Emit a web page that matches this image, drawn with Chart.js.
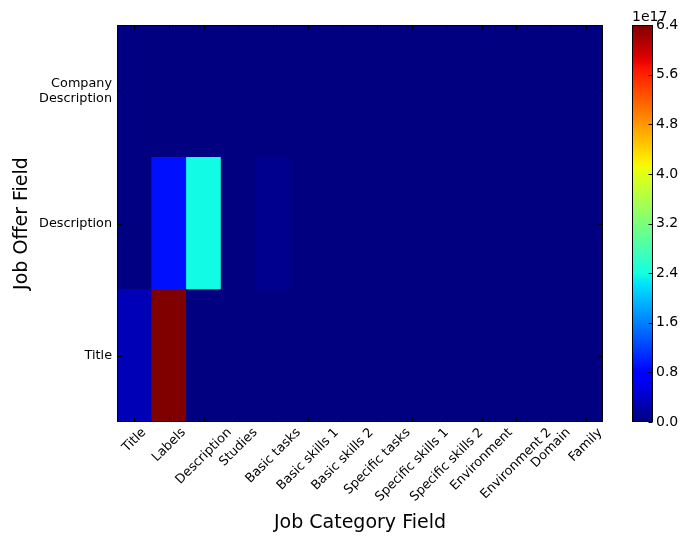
<!DOCTYPE html>
<html>
<head>
<meta charset="utf-8">
<script src="https://cdn.jsdelivr.net/npm/chart.js@4/dist/chart.umd.min.js"></script>
<style>
  html, body { margin: 0; padding: 0; background: #fff; }
  #wrap { position: relative; width: 681px; height: 536px; }
  canvas { position: absolute; top: 0; }
  #heat { left: 0; }
  #cbar { left: 600px; }
</style>
</head>
<body>
<div id="wrap">
  <canvas id="heat" width="681" height="536"></canvas>
  <canvas id="cbar" width="81" height="536"></canvas>
</div>
<script>
// Job category fields (columns)
const categoryFields = ['Title', 'Labels', 'Description', 'Studies', 'Basic tasks', 'Basic skills 1',
  'Basic skills 2', 'Specific tasks', 'Specific skills 1', 'Specific skills 2', 'Environment',
  'Environment 2', 'Domain', 'Family'];

// Job offer fields (rows, bottom to top)
const offerFields = [['Title'], ['Description'], ['Company', 'Description']];

// Cell values per offer field, one per category field
const titleRow       = [0.30e17, 6.40e17, 0, 0, 0, 0, 0, 0, 0, 0, 0, 0, 0, 0];
const descriptionRow = [0, 0.90e17, 2.38e17, 0, 0.08e17, 0, 0, 0, 0, 0, 0, 0, 0, 0];
const companyRow     = [0, 0, 0, 0, 0, 0, 0, 0, 0, 0, 0, 0, 0, 0];

// Colour bar ticks, in units of 1e17
const colorbarTicks = [0.0, 0.8, 1.6, 2.4, 3.2, 4.0, 4.8, 5.6, 6.4];
const colorbarExponent = 17;

const FONT = "'DejaVu Sans', sans-serif";
const TICK_SIZE = 12.8;

// Jet colormap segments
const JET = {
  r: [[0, 0], [0.35, 0], [0.66, 1], [0.89, 1], [1, 0.5]],
  g: [[0, 0], [0.125, 0], [0.375, 1], [0.64, 1], [0.91, 0], [1, 0]],
  b: [[0, 0.5], [0.11, 1], [0.34, 1], [0.65, 0], [1, 0]]
};
function seg(pts, t) {
  for (let i = 1; i < pts.length; i++) {
    if (t <= pts[i][0]) {
      const [x0, y0] = pts[i - 1], [x1, y1] = pts[i];
      return y0 + (y1 - y0) * (t - x0) / (x1 - x0);
    }
  }
  return pts[pts.length - 1][1];
}
function jet(t) {
  t = Math.min(1, Math.max(0, t));
  const c = k => Math.round(255 * seg(JET[k], t));
  return `rgb(${c('r')},${c('g')},${c('b')})`;
}

const rows = [titleRow, descriptionRow, companyRow];
const vmax = Math.max(...rows.flat());

// Plot background in the colormap's zero colour, so cell joins stay seamless
const heatBackground = {
  id: 'heatBackground',
  beforeDatasetsDraw(chart) {
    const { ctx, chartArea: a } = chart;
    ctx.save();
    ctx.fillStyle = jet(0);
    ctx.fillRect(a.left, a.top, a.right - a.left, a.bottom - a.top);
    ctx.restore();
  }
};

// Inward ticks, frame and rotated category labels
const heatDecor = {
  id: 'heatDecor',
  afterDraw(chart) {
    const { ctx, chartArea: a, scales } = chart;
    ctx.save();
    ctx.strokeStyle = '#000';
    ctx.lineWidth = 1;
    const L = Math.round(a.left) + 0.5, R = Math.round(a.right) - 0.5;
    const T = Math.round(a.top) + 0.5, B = Math.round(a.bottom) - 0.5;
    ctx.beginPath();
    scales.x.ticks.forEach((_, i) => {
      const x = Math.round(scales.x.getPixelForTick(i)) + 0.5;
      ctx.moveTo(x, T); ctx.lineTo(x, T + 4);
      ctx.moveTo(x, B); ctx.lineTo(x, B - 4);
    });
    scales.y.ticks.forEach(t => {
      const y = Math.round(scales.y.getPixelForValue(t.value)) + 0.5;
      ctx.moveTo(L, y); ctx.lineTo(L + 4, y);
      ctx.moveTo(R, y); ctx.lineTo(R - 4, y);
    });
    ctx.stroke();
    ctx.strokeRect(L, T, R - L, B - T);

    // category labels rotated 45 degrees, centred on their ticks
    const fs = TICK_SIZE;
    ctx.font = `${fs}px ${FONT}`;
    ctx.fillStyle = '#000';
    ctx.textAlign = 'center';
    ctx.textBaseline = 'middle';
    const c45 = Math.SQRT1_2;
    categoryFields.forEach((label, i) => {
      const w = ctx.measureText(label).width;
      const half = (w + fs) * c45 / 2;
      const x = scales.x.getPixelForTick(i);
      const y = a.bottom + 4 + half;
      ctx.save();
      ctx.translate(x, y);
      ctx.rotate(-Math.PI / 4);
      ctx.fillText(label, 0, 0);
      ctx.restore();
    });
    ctx.restore();
  }
};

new Chart(document.getElementById('heat'), {
  type: 'bar',
  data: {
    labels: categoryFields,
    datasets: rows.map((vals, r) => ({
      data: vals.map(() => [r, r + 1]),
      backgroundColor: vals.map(v => jet(v / vmax)),
      borderWidth: 0,
      borderSkipped: false,
      grouped: false,
      barPercentage: 1,
      categoryPercentage: 1
    }))
  },
  options: {
    responsive: false,
    animation: false,
    devicePixelRatio: 1,
    layout: { padding: { left: 0, top: 25, right: 78, bottom: 0 } },
    plugins: { legend: { display: false }, tooltip: { enabled: false } },
    scales: {
      x: {
        type: 'category',
        grid: { display: false, drawTicks: false, tickLength: 0 },
        border: { display: false },
        ticks: { display: false },
        title: {
          display: true, text: 'Job Category Field', color: '#000',
          font: { family: FONT, size: 19 }, padding: { top: 0, bottom: 2 }
        },
        afterFit(s) { s.height = 114; }
      },
      y: {
        type: 'linear', min: 0, max: 3,
        grid: { display: false, drawTicks: false, tickLength: 0 },
        border: { display: false },
        afterBuildTicks(s) { s.ticks = offerFields.map((_, i) => ({ value: i + 0.5 })); },
        ticks: {
          autoSkip: false,
          color: '#000',
          padding: 5,
          font: { family: FONT, size: TICK_SIZE, lineHeight: 1.1 },
          callback: v => offerFields[Math.floor(v)]
        },
        title: {
          display: true, text: 'Job Offer Field', color: '#000',
          font: { family: FONT, size: 19 }, padding: { top: 11, bottom: 0 }
        },
        afterFit(s) { s.width = 117; }
      }
    }
  },
  plugins: [heatBackground, heatDecor]
});

// Colour bar
const cbarDecor = {
  id: 'cbarDecor',
  afterDraw(chart) {
    const { ctx, chartArea: a, scales } = chart;
    ctx.save();
    ctx.strokeStyle = '#000';
    ctx.lineWidth = 1;
    const L = Math.round(a.left) + 0.5, R = Math.round(a.right) - 0.5;
    const T = Math.round(a.top) + 0.5, B = Math.round(a.bottom) - 0.5;
    ctx.beginPath();
    scales.y.ticks.forEach(t => {
      const y = Math.round(scales.y.getPixelForValue(t.value)) + 0.5;
      ctx.moveTo(R, y); ctx.lineTo(R - 4, y);
    });
    ctx.stroke();
    ctx.strokeRect(L, T, R - L, B - T);
    ctx.fillStyle = '#000';
    ctx.font = `14px ${FONT}`;
    ctx.textAlign = 'left';
    ctx.textBaseline = 'alphabetic';
    ctx.fillText('1e' + colorbarExponent, a.left, a.top - 4);
    ctx.restore();
  }
};

function jetGradient(chart) {
  const a = chart.chartArea;
  if (!a) return jet(0);
  const g = chart.ctx.createLinearGradient(0, a.bottom, 0, a.top);
  for (let i = 0; i <= 64; i++) g.addColorStop(i / 64, jet(i / 64));
  return g;
}

const unit = Math.pow(10, colorbarExponent);
new Chart(document.getElementById('cbar'), {
  type: 'bar',
  data: {
    labels: [''],
    datasets: [{
      data: [[0, vmax]],
      backgroundColor: c => jetGradient(c.chart),
      borderWidth: 0,
      borderSkipped: false,
      barPercentage: 1,
      categoryPercentage: 1
    }]
  },
  options: {
    responsive: false,
    animation: false,
    devicePixelRatio: 1,
    layout: { padding: { left: 32, top: 25, right: 0, bottom: 114 } },
    plugins: { legend: { display: false }, tooltip: { enabled: false } },
    scales: {
      x: { display: false },
      y: {
        position: 'right',
        min: 0, max: colorbarTicks[colorbarTicks.length - 1] * unit,
        grid: { display: false, drawTicks: false, tickLength: 0 },
        border: { display: false },
        afterBuildTicks(s) { s.ticks = colorbarTicks.map(v => ({ value: v * unit })); },
        ticks: {
          autoSkip: false,
          color: '#000',
          padding: 3,
          font: { family: FONT, size: 14 },
          callback: v => (v / unit).toFixed(1)
        },
        afterFit(s) { s.width = 28; }
      }
    }
  },
  plugins: [cbarDecor]
});
</script>
</body>
</html>
